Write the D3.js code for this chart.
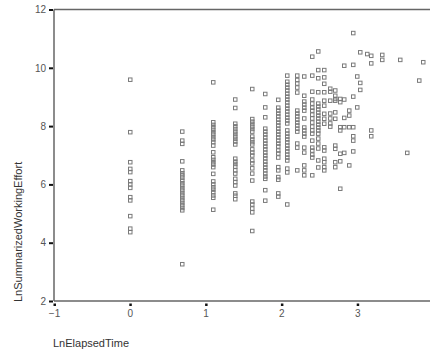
<!DOCTYPE html>
<html>
<head>
<meta charset="utf-8">
<script src="https://cdn.jsdelivr.net/npm/d3@7"></script>
<style>
  body { margin: 0; background: #fff; }
  svg { display: block; font-family: "Liberation Sans", Arial, sans-serif; }
  .tick-label { fill: #555; font-size: 10px; }
  .axis-title { fill: #333; font-size: 11px; }
</style>
</head>
<body>
<svg id="chart" width="430" height="356"></svg>
<script>
// ln of elapsed time takes discrete values, one column of points each
var elapsedLevels = [0, 0.69, 1.10, 1.39, 1.61, 1.79, 1.95, 2.08, 2.20, 2.30, 2.40, 2.48, 2.56, 2.64,
    2.71, 2.77, 2.83, 2.89, 2.94, 3.00, 3.04, 3.13, 3.18, 3.33, 3.56, 3.66, 3.81, 3.87];

// LnSummarizedWorkingEffort values for every column above
var effortByLevel = [
    [9.60, 7.80, 6.77, 6.54, 6.43, 6.12, 6.01, 5.89, 5.57, 5.46, 4.92, 4.49, 4.37],
    [7.82, 7.51, 7.40, 6.80, 6.49, 6.39, 6.32, 6.24, 6.14, 6.05, 5.97, 5.88, 5.80, 5.71, 5.63, 5.54, 5.46, 5.37, 5.29, 5.20, 5.12, 3.27],
    [9.51, 8.14, 8.05, 7.97, 7.88, 7.80, 7.72, 7.63, 7.55, 7.46, 7.34, 7.11, 6.94, 6.85, 6.77, 6.69, 6.60, 6.37, 6.11, 6.01, 5.91, 5.83, 5.74, 5.63, 5.55, 5.14],
    [8.92, 8.63, 8.09, 8.00, 7.91, 7.82, 7.74, 7.65, 7.57, 7.48, 7.38, 6.89, 6.79, 6.71, 6.62, 6.49, 6.38, 6.20, 6.09, 5.97, 5.70, 5.62, 5.50],
    [9.28, 8.25, 8.16, 8.08, 7.99, 7.91, 7.82, 7.65, 7.55, 7.46, 7.38, 7.21, 7.10, 7.00, 6.83, 6.73, 6.56, 6.38, 6.14, 5.42, 5.32, 5.18, 5.05, 4.41],
    [9.11, 8.65, 8.31, 7.92, 7.82, 7.72, 7.62, 7.51, 7.41, 7.31, 7.21, 7.10, 7.00, 6.90, 6.79, 6.69, 6.59, 6.49, 6.38, 6.28, 6.20, 5.81, 5.45],
    [8.91, 8.64, 8.54, 8.44, 8.34, 8.23, 8.13, 8.03, 7.92, 7.82, 7.72, 7.62, 7.51, 7.41, 7.31, 7.17, 7.07, 6.93, 6.60, 6.49, 6.26, 6.17, 5.70, 5.59],
    [9.74, 9.53, 9.43, 9.33, 9.23, 9.12, 9.02, 8.92, 8.82, 8.71, 8.61, 8.51, 8.40, 8.30, 8.20, 8.10, 7.86, 7.75, 7.65, 7.55, 7.45, 7.34, 7.24, 7.14, 7.03, 6.93, 6.83, 6.55, 6.42, 5.32],
    [9.74, 9.59, 9.47, 9.33, 9.16, 8.54, 8.44, 8.34, 8.23, 8.13, 8.03, 7.92, 7.82, 7.41, 7.27, 6.49],
    [9.71, 9.05, 8.85, 8.75, 8.64, 8.54, 8.27, 7.96, 7.86, 7.75, 7.65, 7.27, 7.10, 6.66, 6.49, 6.32],
    [10.39, 9.74, 9.19, 8.92, 8.78, 8.64, 8.54, 8.40, 8.27, 8.13, 7.99, 7.86, 7.75, 7.51, 7.27, 7.17, 7.03, 6.93, 6.32],
    [10.57, 9.93, 9.65, 9.17, 8.78, 8.68, 8.58, 8.47, 8.37, 8.27, 8.16, 8.06, 7.96, 7.86, 7.75, 7.58, 7.41, 7.24, 6.83, 6.59],
    [9.93, 9.68, 9.46, 9.17, 8.88, 8.71, 8.43, 8.26, 8.09, 7.28, 7.17, 6.89, 6.77, 6.60, 6.49],
    [9.29, 9.19, 8.88, 8.44, 8.27, 8.10, 7.99],
    [9.23, 9.05, 8.94, 8.88, 8.48, 8.26, 7.34, 7.23, 6.77, 6.60],
    [8.94, 8.83, 7.97, 7.86, 7.06, 6.80, 5.86],
    [10.08, 8.92, 8.29, 7.97, 7.09],
    [8.54, 8.37, 7.97, 6.66],
    [11.20, 10.11, 9.02, 7.97, 7.66, 7.51, 7.14],
    [9.71, 8.65],
    [10.54, 9.49, 9.25],
    [10.48],
    [10.42, 10.16, 7.86, 7.66],
    [10.45, 10.28],
    [10.28],
    [7.09],
    [9.57],
    [10.20]
];

var xTicks = [-1, 0, 1, 2, 3];
var yTicks = [2, 4, 6, 8, 10, 12];

var svg = d3.select("#chart");

var xScale = d3.scaleLinear().domain([-1, 4]).range([54, 433]);
var yScale = d3.scaleLinear().domain([2, 12]).range([301, 9.5]);

var points = [];
elapsedLevels.forEach(function (x, i) {
    effortByLevel[i].forEach(function (y) {
        points.push({ x: x, y: y });
    });
});

// frame: top line, left and bottom axis lines
var frame = svg.append("g").attr("class", "frame");
frame.append("line")
    .attr("x1", xScale(-1)).attr("x2", 430)
    .attr("y1", yScale(12)).attr("y2", yScale(12))
    .attr("stroke", "#666").attr("stroke-width", 1.5);

var xAxis = d3.axisBottom(xScale)
    .tickValues(xTicks)
    .tickSize(0)
    .tickPadding(9)
    .tickFormat(d3.format("d"));

var yAxis = d3.axisLeft(yScale)
    .tickValues(yTicks)
    .tickSize(0)
    .tickPadding(8)
    .tickFormat(d3.format("d"));

var gx = svg.append("g")
    .attr("class", "axis axis-x")
    .attr("transform", "translate(0," + yScale(2) + ")")
    .call(xAxis);

var gy = svg.append("g")
    .attr("class", "axis axis-y")
    .attr("transform", "translate(" + xScale(-1) + ",0)")
    .call(yAxis);

[gx, gy].forEach(function (g) {
    g.select(".domain").remove();
    g.selectAll("text").attr("class", "tick-label").attr("font-family", null).attr("font-size", null);
});

svg.append("line")
    .attr("x1", xScale(-1)).attr("x2", xScale(-1))
    .attr("y1", yScale(12)).attr("y2", yScale(2))
    .attr("stroke", "#666").attr("stroke-width", 1.5);
svg.append("line")
    .attr("x1", xScale(-1)).attr("x2", 430)
    .attr("y1", yScale(2)).attr("y2", yScale(2))
    .attr("stroke", "#666").attr("stroke-width", 1.5);

// small black tick marks
gy.selectAll(".tick").append("rect")
    .attr("x", -5).attr("y", -1).attr("width", 4).attr("height", 2)
    .attr("fill", "#111");
gx.selectAll(".tick").append("rect")
    .attr("x", -1).attr("y", 2.5).attr("width", 2.5).attr("height", 2.5)
    .attr("fill", "#111");

svg.append("g")
    .attr("class", "points")
    .selectAll("rect")
    .data(points)
    .enter().append("rect")
    .attr("x", function (d) { return Math.round(xScale(d.x)) - 1.5; })
    .attr("y", function (d) { return yScale(d.y) - 1.5; })
    .attr("width", 3.5)
    .attr("height", 3.5)
    .attr("fill", "none")
    .attr("stroke", "#7a7a7a")
    .attr("stroke-width", 1);

svg.append("text")
    .attr("class", "axis-title")
    .attr("x", 53)
    .attr("y", 347)
    .text("LnElapsedTime");

svg.append("text")
    .attr("class", "axis-title")
    .attr("transform", "translate(22,302) rotate(-90)")
    .attr("text-anchor", "start")
    .text("LnSummarizedWorkingEffort");
</script>
</body>
</html>
